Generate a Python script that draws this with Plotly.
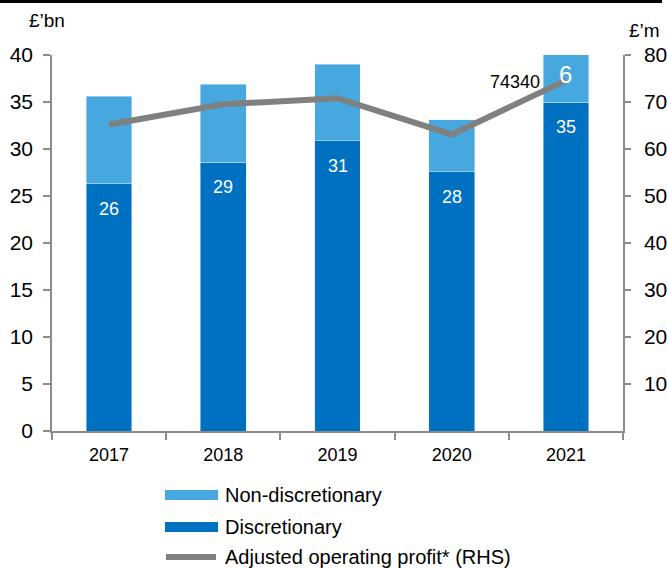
import plotly.graph_objects as go

# Assets under management by type (£bn) and adjusted operating profit (£m)
years = ["2017", "2018", "2019", "2020", "2021"]
discretionary = [26.3, 28.6, 30.9, 27.6, 35.0]
non_discretionary = [9.3, 8.3, 8.1, 5.5, 5.5]
operating_profit = [65.2, 69.5, 70.8, 63.1, 74.6]
profit_labels = ["", "", "", "", "74340"]
left_ticks = [0, 5, 10, 15, 20, 25, 30, 35, 40]
right_ticks = [10, 20, 30, 40, 50, 60, 70, 80]

DARK = "#0070C0"
LIGHT = "#47A8E0"
GREY_LINE = "#808080"
AXIS = "#8C8C8C"
FONT = "Liberation Sans, Arial, sans-serif"

W, H = 667, 568
L, R, T, B = 52, 44, 55, 137
PW, PH = W - L - R, H - T - B


def px(x):
    return (x - L) / PW


def py(y):
    return (H - B - y) / PH


fig = go.Figure()
fig.add_bar(x=years, y=discretionary, marker_color=DARK, name="Discretionary",
            width=0.4, showlegend=False)
fig.add_bar(x=years, y=non_discretionary, marker_color=LIGHT,
            name="Non-discretionary", width=0.4, showlegend=False)
fig.add_scatter(x=years, y=operating_profit, yaxis="y2", mode="lines",
                line=dict(color=GREY_LINE, width=6), showlegend=False,
                name="Adjusted operating profit* (RHS)")

annotations = []
# Discretionary values written near the top of each dark segment
# (annotation x uses the category index on the category axis)
for i, v in enumerate(discretionary):
    annotations.append(dict(x=i, y=v, xref="x", yref="y", text=f"{v:.0f}",
                            showarrow=False, yanchor="top", yshift=-13,
                            font=dict(color="white", size=18, family=FONT)))
# Non-discretionary value shown for the latest year
last = len(years) - 1
last_total = discretionary[last] + non_discretionary[last]
annotations.append(dict(x=last, y=min(last_total, 40), xref="x", yref="y",
                        text=f"{non_discretionary[last]:.0f}", showarrow=False,
                        yanchor="top", yshift=-4,
                        font=dict(color="white", size=24, family=FONT)))
# Operating profit label
for i, (v, lab) in enumerate(zip(operating_profit, profit_labels)):
    if lab:
        annotations.append(dict(x=i, y=v, xref="x", yref="y2", text=lab,
                                showarrow=False, xanchor="right",
                                yanchor="middle", xshift=-24, yshift=-2,
                                font=dict(color="black", size=18,
                                          family=FONT)))
# Axis unit titles
annotations.append(dict(x=px(27), y=py(21), xref="paper", yref="paper",
                        text="£’bn", showarrow=False, xanchor="left",
                        yanchor="middle",
                        font=dict(size=19, color="black", family=FONT)))
annotations.append(dict(x=px(627), y=py(30), xref="paper", yref="paper",
                        text="£’m", showarrow=False, xanchor="left",
                        yanchor="middle",
                        font=dict(size=19, color="black", family=FONT)))

# Legend drawn as shapes plus text
legend_rows = [("Non-discretionary", "rect", LIGHT, 495),
               ("Discretionary", "rect", DARK, 527),
               ("Adjusted operating profit* (RHS)", "line", GREY_LINE, 557)]
shapes = [dict(type="line", xref="paper", yref="paper", x0=px(0), x1=px(662),
               y0=py(1.5), y1=py(1.5), line=dict(color="black", width=3))]
for label, kind, color, yc in legend_rows:
    if kind == "rect":
        shapes.append(dict(type="rect", xref="paper", yref="paper",
                           x0=px(165), x1=px(218), y0=py(yc + 5),
                           y1=py(yc - 5), fillcolor=color,
                           line=dict(width=0)))
    else:
        shapes.append(dict(type="line", xref="paper", yref="paper",
                           x0=px(166), x1=px(216), y0=py(yc), y1=py(yc),
                           line=dict(color=color, width=6)))
    annotations.append(dict(x=px(223), y=py(yc), xref="paper", yref="paper",
                            text=label, showarrow=False, xanchor="left",
                            yanchor="middle",
                            font=dict(size=20, color="black", family=FONT)))

fig.update_layout(
    width=W, height=H,
    margin=dict(l=L, r=R, t=T, b=B, pad=0),
    barmode="stack",
    plot_bgcolor="white", paper_bgcolor="white",
    font=dict(family=FONT, color="black", size=18),
    xaxis=dict(type="category", categoryorder="array", categoryarray=years,
               range=[-0.5, len(years) - 0.5], showline=True, linecolor=AXIS,
               linewidth=1.5, ticks="outside", tickson="boundaries",
               ticklen=7, tickcolor=AXIS, tickwidth=1.5, ticklabelstandoff=7,
               tickfont=dict(size=18), showgrid=False, automargin=False),
    yaxis=dict(range=[0, 40], tickvals=left_ticks, showline=True,
               linecolor=AXIS, linewidth=1.5, ticks="outside", ticklen=7,
               tickcolor=AXIS, tickwidth=1.5, showgrid=False, zeroline=False,
               ticklabelstandoff=6, tickfont=dict(size=21), automargin=False),
    yaxis2=dict(range=[0, 80], tickvals=right_ticks, overlaying="y",
                side="right", showline=True, linecolor=AXIS, linewidth=1.5,
                ticks="outside", ticklen=6, tickcolor=AXIS, tickwidth=1.5,
                showgrid=False, zeroline=False, ticklabelstandoff=9,
                tickfont=dict(size=21), automargin=False),
    annotations=annotations,
    shapes=shapes,
)

fig.write_html("out.html")
